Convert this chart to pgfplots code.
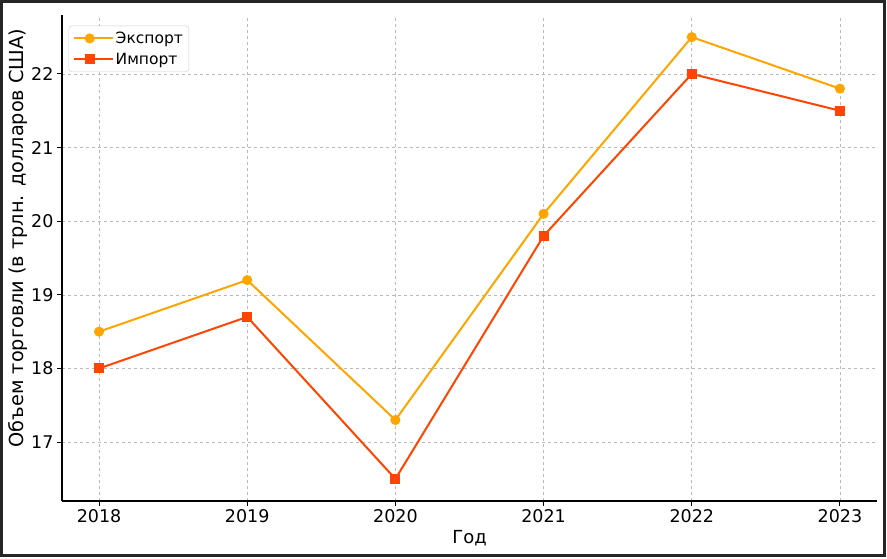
\documentclass[border=0pt]{standalone}
\usepackage{fontspec}
\setmainfont{DejaVu Sans}
\usepackage{pgfplots}
\pgfplotsset{compat=1.18}
\definecolor{expcol}{HTML}{FFA500}
\definecolor{impcol}{HTML}{FF4500}
\begin{document}
\begin{tikzpicture}
\useasboundingbox (0pt,0pt) rectangle (887pt,558pt);
\draw[line width=3pt, black!85] (1.5pt,3pt) rectangle (884.5pt,556.5pt);
\begin{axis}[
  at={(62pt,57pt)}, anchor=south west,
  scale only axis,
  width=815pt, height=486pt,
  xmin=2017.75, xmax=2023.25,
  ymin=16.2, ymax=22.8,
  xtick={2018,2019,2020,2021,2022,2023},
  ytick={17,18,19,20,21,22},
  /pgf/number format/1000 sep={},
  /pgf/number format/assume math mode=true,
  axis x line*=bottom, axis y line*=left,
  axis line style={line width=1.2pt, -},
  tick style={black, line width=1pt},
  tick align=outside,
  major tick length=5pt,
  ticklabel style={font=\fontsize{17.5}{19}\selectfont},
  grid=major,
  grid style={gray!55, dashed, line width=0.6pt},
  xlabel={Год},
  ylabel={Объем торговли (в трлн. долларов США)},
  xlabel style={font=\fontsize{18}{20}\selectfont, at={(axis description cs:0.5,0)}, anchor=center, yshift=-37pt},
  ylabel style={font=\fontsize{19.3}{21}\selectfont, at={(axis description cs:0,0.541)}, yshift=44pt, anchor=center},
  legend style={at={(0.008,0.978)}, anchor=north west, font=\fontsize{15.5}{17}\selectfont,
    draw=gray!40, rounded corners=3pt, cells={anchor=west}, row sep=4pt,
    inner sep=4pt},
  legend image code/.code={\draw[mark repeat=2,mark phase=2,#1] plot coordinates {(0pt,0pt) (16pt,0pt) (32pt,0pt)}; \path (0pt,0pt) -- (39pt,0pt);},
]
\addplot[expcol, line width=2pt, mark=*, mark size=4pt, mark options={solid, fill=expcol, draw=expcol}]
  coordinates {(2018,18.5) (2019,19.2) (2020,17.3) (2021,20.1) (2022,22.5) (2023,21.8)};
\addlegendentry{Экспорт}
\addplot[impcol, line width=2pt, mark=square*, mark size=4pt, mark options={solid, fill=impcol, draw=impcol}]
  coordinates {(2018,18.0) (2019,18.7) (2020,16.5) (2021,19.8) (2022,22.0) (2023,21.5)};
\addlegendentry{Импорт}
\end{axis}
\end{tikzpicture}
\end{document}
